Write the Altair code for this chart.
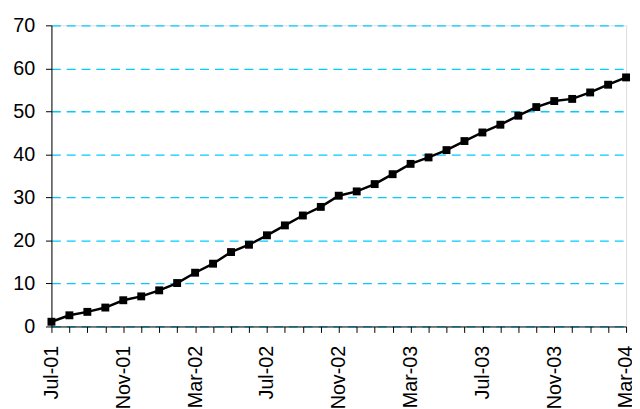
import altair as alt
import pandas as pd

months = ["Jul-01", "Aug-01", "Sep-01", "Oct-01", "Nov-01", "Dec-01",
          "Jan-02", "Feb-02", "Mar-02", "Apr-02", "May-02", "Jun-02",
          "Jul-02", "Aug-02", "Sep-02", "Oct-02", "Nov-02", "Dec-02",
          "Jan-03", "Feb-03", "Mar-03", "Apr-03", "May-03", "Jun-03",
          "Jul-03", "Aug-03", "Sep-03", "Oct-03", "Nov-03", "Dec-03",
          "Jan-04", "Feb-04", "Mar-04"]
values = [1.1, 2.6, 3.4, 4.4, 6.1, 7.0,
          8.4, 10.1, 12.5, 14.6, 17.3, 19.0,
          21.2, 23.5, 25.8, 27.8, 30.4, 31.4,
          33.1, 35.4, 37.8, 39.3, 41.0, 43.1,
          45.1, 46.9, 49.0, 51.0, 52.4, 52.9,
          54.4, 56.2, 57.9]
y_ticks = [0, 10, 20, 30, 40, 50, 60, 70]

df = pd.DataFrame({"month": months, "value": values})

font = "Liberation Sans"

x = alt.X("month:O", sort=months,
          scale=alt.Scale(type="point", padding=0),
          axis=alt.Axis(title=None, labelAngle=-90, labelFontSize=20,
                        labelFont=font, labelColor="black",
                        labelPadding=13, tickSize=6, tickColor="black",
                        domainColor="black", labelOverlap=False,
                        labelExpr="test(/^(Jul|Nov|Mar)/, datum.value) ? datum.value : ''",
                        grid=False))
y = alt.Y("value:Q",
          scale=alt.Scale(domain=[0, 70], nice=False),
          axis=alt.Axis(title=None, values=y_ticks, labelFontSize=20,
                        labelFont=font, labelColor="black", labelPadding=11,
                        tickSize=6, tickColor="black", domainColor="black",
                        grid=True, gridColor="#00CCFF", gridDash=[9, 6],
                        gridWidth=1.3))

base = alt.Chart(df).encode(x=x, y=y)
line = base.mark_line(color="black", strokeWidth=2.5)
pts = base.mark_point(shape="square", filled=True, color="black", size=64, opacity=1)

chart = alt.layer(line, pts).properties(
    width=582, height=305,
    padding={"left": 44, "top": 15, "right": 6, "bottom": 81},
    autosize=alt.AutoSizeParams(type="none"),
).configure_view(stroke=None).configure(background="white")

chart.save("out.html", embed_options={"renderer": "svg", "actions": False})
